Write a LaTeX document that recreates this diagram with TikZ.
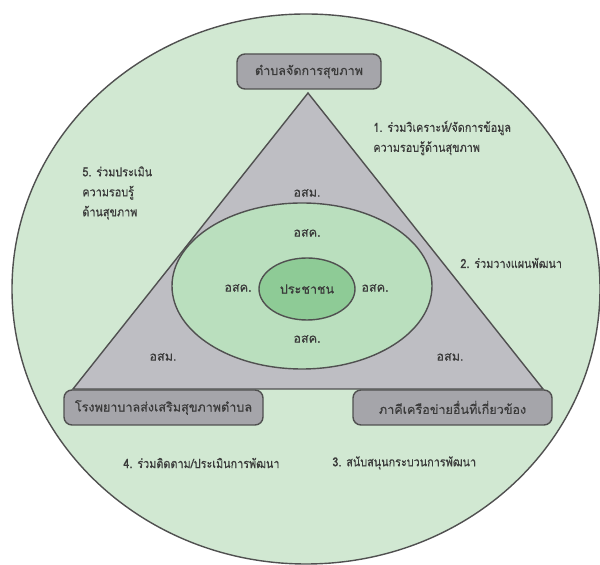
\documentclass[tikz,border=0pt]{standalone}
\usepackage{fontspec}
\newfontfamily\thaifont[Script=Thai,FakeBold=0.4]{Loma}
\newfontfamily\thainarrow[Script=Thai,FakeBold=0.4,FakeStretch=0.86]{Loma}
\usetikzlibrary{positioning,shapes.geometric}
\definecolor{outerg}{HTML}{D1E8D2}
\definecolor{midg}{HTML}{BADFBE}
\definecolor{innerg}{HTML}{8ECB96}
\definecolor{trigray}{HTML}{BEBEC3}
\definecolor{boxgray}{HTML}{A5A5AA}
\definecolor{edgegray}{HTML}{505050}
\definecolor{txtgray}{HTML}{3A3A3A}

\begin{document}
\begin{tikzpicture}[x=0.5pt,y=-0.5pt,
  lbl/.style={font=\thaifont\fontsize{6.3}{10}\selectfont,text=txtgray,inner sep=0pt},
  side/.style={lbl,font=\thainarrow\fontsize{6.3}{10}\selectfont,align=left,anchor=west},
  ring/.style={ellipse,draw=edgegray,line width=0.7pt,inner sep=0pt},
  org/.style={lbl,draw=edgegray,fill=boxgray,rounded corners=4pt,line width=0.7pt,
              minimum height=17.5pt,minimum width=99.5pt}]
\useasboundingbox (0,0) rectangle (600,565);
% outer community circle
\node[ring,fill=outerg,minimum width=294pt,minimum height=275pt] (area) at (306,289) {};
% triangle of partners
\coordinate (apex) at (308,93);
\coordinate (bl) at (73,389);
\coordinate (br) at (543,389);
\draw[edgegray,fill=trigray,line width=0.7pt] (apex) -- (bl) -- (br) -- cycle;
\node[ring,fill=midg,minimum width=130pt,minimum height=83pt] (family) at (302,286) {};
\node[ring,fill=innerg,minimum width=48pt,minimum height=31pt,lbl] (people) at (307,289) {ประชาชน};
% volunteers
\node[lbl] (vt) at (307,193) {อสม.};
\node[lbl] (vl) at (163,357) {อสม.};
\node[lbl] (vr) at (450,357) {อสม.};
\node[lbl] (ft) at (307,233) {อสค.};
\node[lbl] (fl) at (238,288) {อสค.};
\node[lbl] (fr) at (375,288) {อสค.};
\node[lbl] (fb) at (307,339) {อสค.};
% organisations
\node[org,minimum width=72pt] (district) at (309,71.5) {ตำบลจัดการสุขภาพ};
\node[org] (hosp) at (163.5,407.5) {โรงพยาบาลส่งเสริมสุขภาพตำบล};
\node[org] (partner) at (452.5,407.5) {ภาคีเครือข่ายอื่นที่เกี่ยวข้อง};
% roles
\node[side] (r1) at (373,138) {1. ร่วมวิเคราะห์/จัดการข้อมูล\\ความรอบรู้ด้านสุขภาพ};
\node[side] (r2) at (460,263) {2. ร่วมวางแผนพัฒนา};
\node[side] (r3) at (332,463) {3. สนับสนุนกระบวนการพัฒนา};
\node[side] (r4) at (123,463) {4. ร่วมติดตาม/ประเมินการพัฒนา};
\node[side] (r5) at (82,193) {5. ร่วมประเมิน\\ความรอบรู้\\ด้านสุขภาพ};
\end{tikzpicture}
\end{document}
